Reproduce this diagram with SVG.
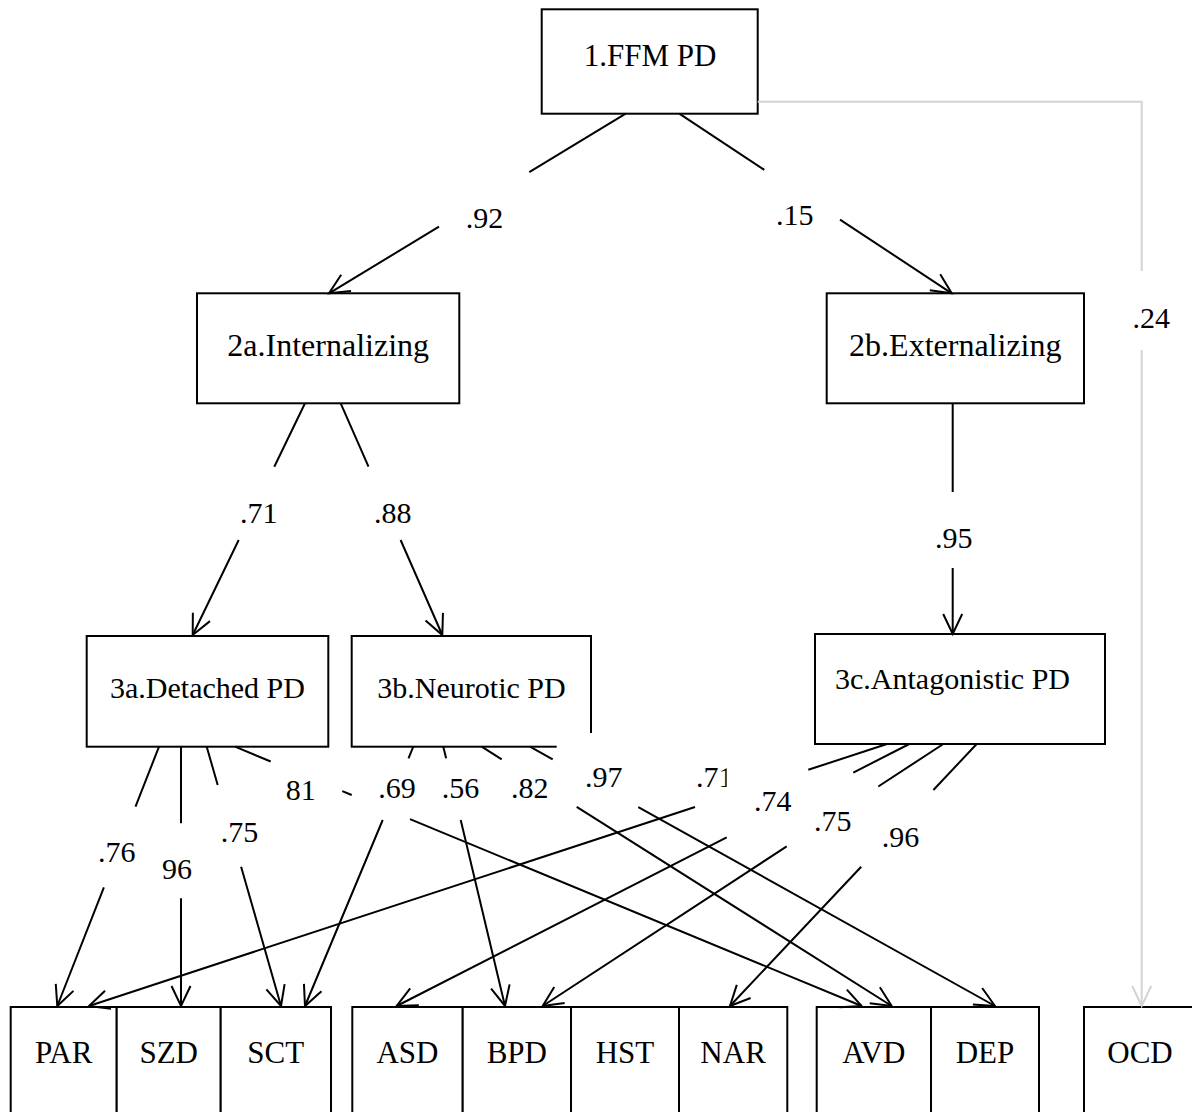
<svg xmlns="http://www.w3.org/2000/svg" width="1192" height="1112" viewBox="0 0 1192 1112">
<style>
.box{fill:#fff;stroke:#000;stroke-width:2}
.nt{font-family:"Liberation Serif","Times New Roman",serif;fill:#000;text-anchor:middle}
.l1{font-size:31px}
.l2{font-size:32px}
.l3{font-size:30px}
.lb{font-size:31px}
.num{font-family:"Liberation Serif","Times New Roman",serif;font-size:30px;fill:#000}
.ln{fill:none;stroke:#000;stroke-width:2;marker-end:url(#ah)}
.gl{fill:none;stroke:#d3d3d3;stroke-width:2;marker-end:url(#ahg)}
</style>
<defs>
<marker id="ah" markerUnits="userSpaceOnUse" markerWidth="26" markerHeight="26" viewBox="-23 -13 26 26" refX="0" refY="0" orient="auto">
<path d="M-20,-9.5 L0,0 L-20,9.5" fill="none" stroke="#000" stroke-width="2"/>
</marker>
<marker id="ahg" markerUnits="userSpaceOnUse" markerWidth="26" markerHeight="26" viewBox="-23 -13 26 26" refX="0" refY="0" orient="auto">
<path d="M-20,-9.5 L0,0 L-20,9.5" fill="none" stroke="#d3d3d3" stroke-width="2"/>
</marker>
</defs>
<rect width="1192" height="1112" fill="#fff"/>

<g id="n-ffm"><rect class="box" x="541.7" y="9.3" width="216" height="104.4"/><text class="nt l1" x="650" y="66">1.FFM PD</text></g>
<g id="n-int"><rect class="box" x="197" y="293.3" width="262.3" height="110"/><text class="nt l2" x="328.2" y="356">2a.Internalizing</text></g>
<g id="n-ext"><rect class="box" x="826.7" y="293.3" width="257.3" height="110"/><text class="nt l2" x="955.3" y="356">2b.Externalizing</text></g>
<g id="n-det"><rect class="box" x="86.7" y="636" width="241.6" height="110.7"/><text class="nt l3" x="207.5" y="698">3a.Detached PD</text></g>
<g id="n-neu"><rect class="box" x="351.7" y="636" width="239.3" height="110.7"/><text class="nt l3" x="471.5" y="698">3b.Neurotic PD</text></g>
<g id="n-ant"><rect class="box" x="815" y="634" width="290" height="110"/><text class="nt l3" x="952.5" y="689">3c.Antagonistic PD</text></g>

<g id="n-par"><rect class="box" x="10.7" y="1007" width="106" height="120"/><text class="nt lb" x="63.7" y="1063">PAR</text></g>
<g id="n-szd"><rect class="box" x="116.7" y="1007" width="104" height="120"/><text class="nt lb" x="168.7" y="1063">SZD</text></g>
<g id="n-sct"><rect class="box" x="220.7" y="1007" width="110.3" height="120"/><text class="nt lb" x="275.8" y="1063">SCT</text></g>
<g id="n-asd"><rect class="box" x="352.3" y="1007" width="110.4" height="120"/><text class="nt lb" x="407.5" y="1063">ASD</text></g>
<g id="n-bpd"><rect class="box" x="462.7" y="1007" width="108.3" height="120"/><text class="nt lb" x="516.8" y="1063">BPD</text></g>
<g id="n-hst"><rect class="box" x="571" y="1007" width="108" height="120"/><text class="nt lb" x="625" y="1063">HST</text></g>
<g id="n-nar"><rect class="box" x="679" y="1007" width="108.3" height="120"/><text class="nt lb" x="733.1" y="1063">NAR</text></g>
<g id="n-avd"><rect class="box" x="816.7" y="1007" width="114.3" height="120"/><text class="nt lb" x="873.8" y="1063">AVD</text></g>
<g id="n-dep"><rect class="box" x="931" y="1007" width="108" height="120"/><text class="nt lb" x="985" y="1063">DEP</text></g>
<g id="n-ocd"><rect class="box" x="1084" y="1007" width="112" height="120"/><text class="nt lb" x="1140" y="1063">OCD</text></g>

<g id="connectors">
<path class="gl" d="M757.7,101.7 L1141.7,101.7 L1141.7,271 M1141.7,350 L1141.7,1006"/>
<path class="ln" d="M625.7,113.7 L529.3,172.1 M439,226.7 L329,293.3"/>
<path class="ln" d="M679.3,113.7 L764.3,169.8 M840,219.6 L951.7,293.3"/>
<path class="ln" d="M305,403.3 L274.3,466.7 M238.7,540 L192.7,635"/>
<path class="ln" d="M340.7,403.3 L368.5,466.7 M400.6,540 L442.3,635"/>
<path class="ln" d="M952.7,403.3 L952.7,492 M952.7,568 L952.7,634"/>

<path class="ln" d="M159,746.7 L135.5,806.7 M103.9,887.3 L57.3,1006"/>
<path class="ln" d="M181,746.7 L181,823.3 M181,898.3 L181,1006"/>
<path class="ln" d="M206.7,746.7 L217.7,785 M241.1,866.7 L281,1006"/>
<path class="ln" d="M235,746.7 L270.7,761.5 M342.3,791.1 L351.7,795 M410,819.1 L861.7,1006"/>
<path class="ln" d="M413.3,746.7 L408.5,758.3 M382.7,820 L305,1006"/>
<path class="ln" d="M443.3,746.7 L446.1,758.3 M460.7,820 L505,1006"/>
<path class="ln" d="M481.7,746.7 L501.7,759.3 M576.7,806.8 L891.7,1006"/>
<path class="ln" d="M530,746.7 L552.7,759.4 M638.3,807.1 L995,1006"/>
<path class="ln" d="M887,744 L808.3,769.8 M695,807 L89,1006"/>
<path class="ln" d="M909.3,744 L853.3,772.6 M726.7,837.3 L396.7,1006"/>
<path class="ln" d="M943.3,744 L878.3,786.5 M786.7,846.4 L542.7,1006"/>
<path class="ln" d="M976.7,744 L933.4,790 M861.2,866.7 L730,1006"/>

<rect x="556.7" y="733" width="36" height="16" fill="#fff"/>

<text class="num" x="465.7" y="228">.92</text>
<text class="num" x="776" y="225">.15</text>
<text class="num" x="1132.5" y="328">.24</text>
<text class="num" x="240" y="523">.71</text>
<text class="num" x="374" y="523">.88</text>
<text class="num" x="935" y="548">.95</text>
<text class="num" x="98" y="862">.76</text>
<text class="num" x="162" y="879">96</text>
<text class="num" x="220.7" y="842">.75</text>
<text class="num" x="285.7" y="800">81</text>
<text class="num" x="378.3" y="798">.69</text>
<text class="num" x="441.7" y="798">.56</text>
<text class="num" x="511" y="798">.82</text>
<text class="num" x="585" y="787">.97</text>
<text class="num" x="696" y="787">.71</text>
<rect x="726.7" y="762" width="60" height="30" fill="#fff"/>
<text class="num" x="754" y="811">.74</text>
<text class="num" x="814" y="831">.75</text>
<text class="num" x="881.7" y="847">.96</text>
</g>
</svg>
